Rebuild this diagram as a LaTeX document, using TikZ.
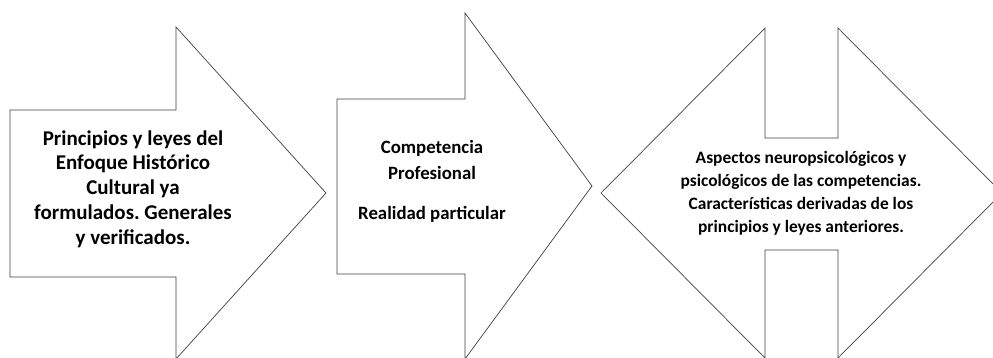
\documentclass[tikz,border=0pt]{standalone}
\usepackage{fontspec}
\setmainfont{Carlito}
\frenchspacing
\usepackage{tikz}
\usetikzlibrary{positioning}

\tikzset{
  arrowshape/.style={draw=black!75, line width=0.7pt, fill=white, line join=miter},
  arrowtext/.style={align=center, font=\bfseries, inner sep=0pt}
}

\begin{document}
\begin{tikzpicture}[x=1pt, y=-1pt]
        \useasboundingbox (0,0) rectangle (993,358);

        % Block arrow: principles
        \draw[arrowshape] (10,110) -- (176,110) -- (176,27) -- (326,193)
          -- (176,359) -- (176,277) -- (10,277) -- cycle;
        \node[arrowtext, font=\bfseries\fontsize{21}{24.8}\selectfont] (principios) at (133,189)
          {Principios y leyes del\\Enfoque Histórico\\Cultural ya\\formulados. Generales\\y verificados.};

        % Block arrow: competence
        \draw[arrowshape] (337,99) -- (465,99) -- (465,13) -- (592,186)
          -- (465,359) -- (465,274) -- (337,274) -- cycle;
        \node[arrowtext, font=\bfseries\fontsize{18.8}{26}\selectfont] (competencia) at (432,181)
          {Competencia\\Profesional\\[14pt]Realidad particular};

        % Double arrow with notches: aspects
        \draw[arrowshape] (765,28) -- (765,138) -- (838,138) -- (838,28) -- (1002,193)
          -- (838,358) -- (838,250) -- (765,250) -- (765,358) -- (601,193) -- cycle;
        \node[arrowtext, font=\bfseries\fontsize{17.4}{23}\selectfont] (aspectos) at (801,193)
          {Aspectos neuropsicológicos y\\psicológicos de las competencias.\\Características derivadas de los\\principios y leyes anteriores.};
\end{tikzpicture}
\end{document}
